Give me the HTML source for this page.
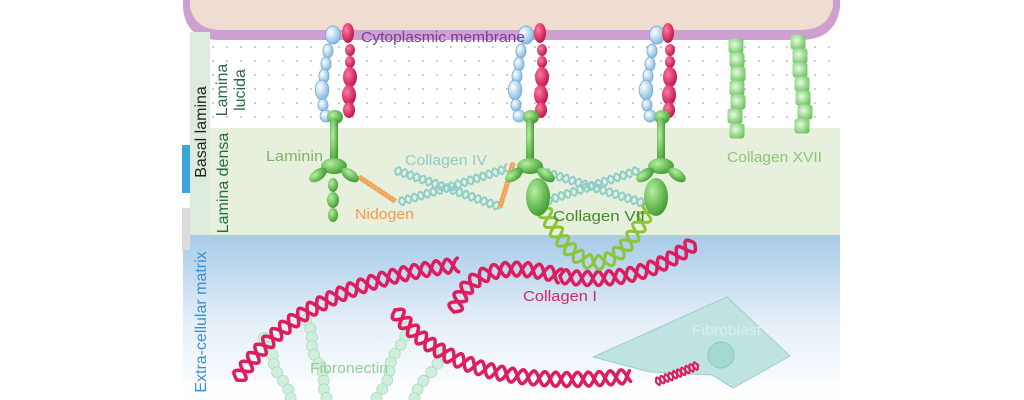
<!DOCTYPE html>
<html><head><meta charset="utf-8"><style>
html,body{margin:0;padding:0;background:#fff;width:1024px;height:400px;overflow:hidden}
svg{display:block}
text{font-family:"Liberation Sans",sans-serif}
</style></head><body>
<svg id="s" width="1024" height="400" viewBox="0 0 1024 400" xmlns="http://www.w3.org/2000/svg">
<defs>
<linearGradient id="ecm" x1="0" y1="0" x2="0" y2="1">
<stop offset="0" stop-color="#a7cbe9"/><stop offset="0.55" stop-color="#e6f0f8"/><stop offset="1" stop-color="#ffffff"/>
</linearGradient>
<pattern id="dots" width="14" height="14" patternUnits="userSpaceOnUse">
<circle cx="3" cy="5" r="0.8" fill="#8a9a8a"/>
</pattern>
<radialGradient id="gb" cx="0.35" cy="0.35" r="0.7"><stop offset="0" stop-color="#b5f0a0"/><stop offset="1" stop-color="#3f9a2f"/></radialGradient>
<radialGradient id="bb" cx="0.35" cy="0.35" r="0.7"><stop offset="0" stop-color="#ffffff"/><stop offset="1" stop-color="#7fb6df"/></radialGradient>
<radialGradient id="rb" cx="0.35" cy="0.35" r="0.7"><stop offset="0" stop-color="#ff7aa0"/><stop offset="1" stop-color="#c0104a"/></radialGradient>
<radialGradient id="sq" cx="0.4" cy="0.4" r="0.7"><stop offset="0" stop-color="#e6fbe0"/><stop offset="1" stop-color="#67c25a"/></radialGradient>
</defs>
<rect x="183" y="235" width="657" height="165" fill="url(#ecm)"/>
<rect x="210" y="128" width="630" height="107" fill="#e6f0dc"/>
<rect x="210" y="45" width="630" height="83" fill="url(#dots)"/>
<path d="M183 0 L840 0 L840 8 Q835 40 800 40 L220 40 Q186 40 183 8 Z" fill="#cda0cf"/>
<path d="M190 0 L833 0 L833 6 Q828 30 800 30 L222 30 Q194 30 190 6 Z" fill="#f1dcd2"/>
<rect x="190" y="32" width="20" height="203" fill="#dcebdc"/>
<rect x="182" y="145" width="8" height="48" fill="#3ba6dc"/>
<rect x="182" y="208" width="8" height="42" fill="#dcdcdc"/>
<text transform="translate(206,132) rotate(-90)" text-anchor="middle" font-size="16" fill="#222">Basal lamina</text>
<text transform="translate(227,90) rotate(-90)" text-anchor="middle" font-size="16" fill="#2a6b45">Lamina</text>
<text transform="translate(245,90) rotate(-90)" text-anchor="middle" font-size="16" fill="#2a6b45">lucida</text>
<text transform="translate(228,183) rotate(-90)" text-anchor="middle" font-size="16" fill="#2a6b45">Lamina densa</text>
<text transform="translate(206,322) rotate(-90)" text-anchor="middle" font-size="16" fill="#3b8fd0">Extra-cellular matrix</text>
<polygon points="593,357 727,297 790,356 733,388 712,375 650,372" fill="#bfe3e0" stroke="#9ccfca" stroke-width="1"/>
<circle cx="721" cy="355" r="13" fill="#a6d8d2" stroke="#8cc8c2"/>
<text x="692" y="335" font-size="15" fill="#d8efec" textLength="69" lengthAdjust="spacingAndGlyphs">Fibroblast</text>
<g id="dyn"></g>
<text x="361" y="42" font-size="15" fill="#7b3a9c" textLength="164" lengthAdjust="spacingAndGlyphs">Cytoplasmic membrane</text>
<text x="266" y="161" font-size="15" fill="#7fb46a" textLength="57" lengthAdjust="spacingAndGlyphs">Laminin</text>
<text x="405" y="165" font-size="15" fill="#93cbc6" textLength="82" lengthAdjust="spacingAndGlyphs">Collagen IV</text>
<text x="355" y="219" font-size="15" fill="#f09a4a" textLength="59" lengthAdjust="spacingAndGlyphs">Nidogen</text>
<text x="553" y="221" font-size="15" fill="#3f8a2a" textLength="92" lengthAdjust="spacingAndGlyphs">Collagen VII</text>
<text x="727" y="162" font-size="15" fill="#8cc47a" textLength="95" lengthAdjust="spacingAndGlyphs">Collagen XVII</text>
<text x="523" y="301" font-size="15" fill="#cc2a68" textLength="74" lengthAdjust="spacingAndGlyphs">Collagen I</text>
<text x="310" y="373" font-size="15" fill="#96cc96" textLength="78" lengthAdjust="spacingAndGlyphs">Fibronectin</text>
</svg>
<script>
var NS="http://www.w3.org/2000/svg",g=document.getElementById("dyn");
function el(t,a,p){var e=document.createElementNS(NS,t);for(var k in a)e.setAttribute(k,a[k]);(p||g).appendChild(e);return e;}
function q(p0,p1,p2,t){var u=1-t;return[u*u*p0[0]+2*u*t*p1[0]+t*t*p2[0],u*u*p0[1]+2*u*t*p1[1]+t*t*p2[1]];}
function helix(p0,p1,p2,amp,wl,col,w){
 var N=300,pts=[],len=0,prev=null;
 for(var i=0;i<=N;i++){var t=i/N,p=q(p0,p1,p2,t);if(prev)len+=Math.hypot(p[0]-prev[0],p[1]-prev[1]);pts.push([p,len]);prev=p;}
 for(var s=0;s<2;s++){var d="";
  for(var i=0;i<=N;i++){var p=pts[i][0],a=pts[Math.max(i-1,0)][0],b=pts[Math.min(i+1,N)][0];
   var dx=b[0]-a[0],dy=b[1]-a[1],L=Math.hypot(dx,dy)||1,nx=-dy/L,ny=dx/L;
   var o=amp*Math.sin(pts[i][1]/wl*2*Math.PI+s*Math.PI);
   d+=(i?"L":"M")+(p[0]+nx*o).toFixed(1)+" "+(p[1]+ny*o).toFixed(1);}
  el("path",{d:d,fill:"none",stroke:col,"stroke-width":w,"stroke-linecap":"round"});}
}
function beads(a,b,n,r,c){for(var i=0;i<n;i++){var t=i/(n-1);el("circle",{cx:a[0]+(b[0]-a[0])*t+Math.sin(i*1.3)*2,cy:a[1]+(b[1]-a[1])*t,r:r,fill:c,stroke:"#a8dcc0","stroke-width":0.8});}}
beads([264,338],[290,398],8,5.5,"#cfeedd");beads([306,320],[328,398],10,5.5,"#cfeedd");
beads([407,327],[378,398],9,5.5,"#cfeedd");beads([441,355],[414,398],6,5.5,"#cfeedd");
var R="#dc1d5e";
helix([237,380],[300,282],[458,265],7,22,R,3.5);
helix([395,310],[455,395],[630,376],7,22,R,3.5);
helix([454,312],[472,252],[560,276],7,22,R,3.5);
helix([560,276],[640,288],[694,243],7,22,R,3.5);
helix([656,382],[678,374],[698,365],4,9,R,2);
helix([543,208],[597,318],[650,206],7,22,"#8cc43a",3);
var T="#8fcdc8";
helix([395,170],[448,188],[500,207],4,13,T,2);helix([399,202],[455,186],[508,168],4,13,T,2);
helix([538,170],[590,186],[643,203],4,13,T,2);helix([546,201],[592,186],[639,170],4,13,T,2);
helix([359,177],[377,189],[395,201],2,5,"#f0a050",1.5);
helix([513,163],[507,185],[500,207],2,5,"#f0a050",1.5);
[[333,329,348,333],[529,522,540,529],[660,653,668,660]].forEach(function(c){var bx=c[1]+4,rx=c[2],x=c[3];
 var blue=[[bx,35,9,9],[bx-5,51,6,7],[bx-7,64,6,7],[bx-9,76,6,7],[bx-11,90,8,10],[bx-10,105,6,6],[bx-7,116,7,6]];
 blue.forEach(function(b){el("ellipse",{cx:b[0],cy:b[1],rx:b[2]*0.85,ry:b[3],fill:"url(#bb)",stroke:"#6aa6d4","stroke-width":0.7});});
 var red=[[rx,33,6,10],[rx+2,50,5,6],[rx+2,62,5,6],[rx+2,77,7,10],[rx+1,95,7,10],[rx+1,110,6,8]];
 red.forEach(function(b){el("ellipse",{cx:b[0],cy:b[1],rx:b[2],ry:b[3],fill:"url(#rb)"});});
 el("ellipse",{cx:x+2,cy:117,rx:8,ry:7,fill:"url(#gb)"});
 el("rect",{x:x-3,y:118,width:8,height:47,rx:4,fill:"url(#gb)"});
 el("ellipse",{cx:x+1,cy:166,rx:13,ry:8,fill:"url(#gb)"});
 el("ellipse",{cx:x-15,cy:175,rx:10,ry:5.5,fill:"url(#gb)",transform:"rotate(-35 "+(x-15)+" 175)"});
 el("ellipse",{cx:x+17,cy:175,rx:10,ry:5.5,fill:"url(#gb)",transform:"rotate(35 "+(x+17)+" 175)"});
 if(x==333){el("ellipse",{cx:x,cy:185,rx:5,ry:7,fill:"url(#gb)"});el("ellipse",{cx:x,cy:200,rx:6,ry:8,fill:"url(#gb)"});el("ellipse",{cx:x,cy:215,rx:5,ry:7,fill:"url(#gb)"});}
 else{el("ellipse",{cx:x+(x==529?9:-4),cy:197,rx:12,ry:19,fill:"url(#gb)"});}
});
[[736,46],[737,60],[738,74],[737,88],[738,102],[735,116],[737,131]].forEach(function(p){el("rect",{x:p[0]-7.5,y:p[1]-7.5,width:15,height:15,rx:3,fill:"url(#sq)"});});
[[798,42],[800,56],[800,70],[802,84],[803,98],[805,112],[802,126]].forEach(function(p){el("rect",{x:p[0]-7.5,y:p[1]-7.5,width:15,height:15,rx:3,fill:"url(#sq)"});});
</script>
</body></html>
